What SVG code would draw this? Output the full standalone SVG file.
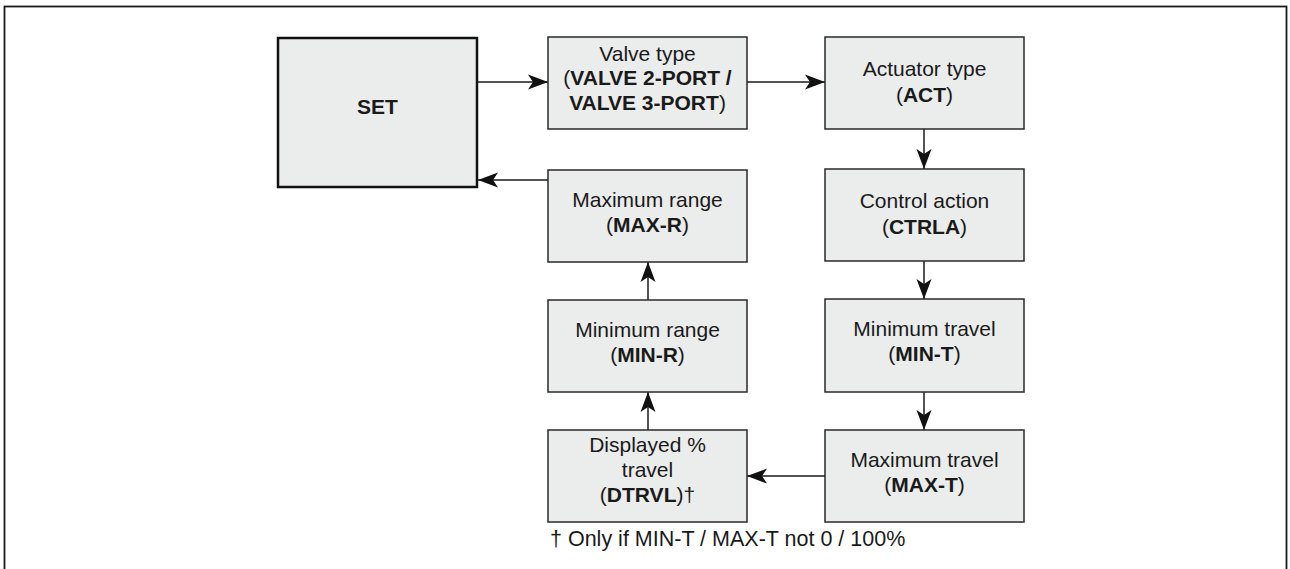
<svg xmlns="http://www.w3.org/2000/svg" width="1290" height="569" viewBox="0 0 1290 569">
<defs>
<style>
.box{fill:#ebecec;stroke:#2a2a2a;stroke-width:1.5}
.set{fill:#ebecec;stroke:#111;stroke-width:2.5}
text{font-family:"Liberation Sans",Arial,sans-serif;font-size:21px;fill:#1a1a1a;text-anchor:middle}
.b{font-weight:bold}
.conn{stroke:#1a1a1a;stroke-width:1.5;fill:none;marker-end:url(#ah)}
</style>
<marker id="ah" markerWidth="22" markerHeight="18" refX="20" refY="9" orient="auto" markerUnits="userSpaceOnUse">
<path d="M0,1.5 L20,9 L0,16.5 L5,9 z" fill="#111"/>
</marker>
</defs>
<rect x="4.5" y="6.5" width="1282" height="575" fill="#fff" stroke="#1a1a1a" stroke-width="1.8"/>
<g id="connectors">
<line class="conn" x1="477" y1="82" x2="548" y2="82"/>
<line class="conn" x1="747" y1="82" x2="825" y2="82"/>
<line class="conn" x1="924" y1="129" x2="924" y2="169"/>
<line class="conn" x1="924" y1="261" x2="924" y2="299"/>
<line class="conn" x1="924" y1="392" x2="924" y2="430"/>
<line class="conn" x1="825" y1="476" x2="747" y2="476"/>
<line class="conn" x1="648" y1="430" x2="648" y2="392"/>
<line class="conn" x1="648" y1="300" x2="648" y2="262"/>
<line class="conn" x1="548" y1="180" x2="478" y2="180"/>
</g>
<g id="set">
<rect class="set" x="278" y="38" width="199" height="149"/>
<text x="377.5" y="114" class="b">SET</text>
</g>
<g id="valve-type">
<rect class="box" x="548" y="37" width="199" height="92"/>
<text x="647.5" y="61">Valve type</text>
<text x="647.5" y="85">(<tspan class="b">VALVE 2-PORT /</tspan></text>
<text x="647.5" y="110"><tspan class="b">VALVE 3-PORT</tspan>)</text>
</g>
<g id="actuator-type">
<rect class="box" x="825" y="37" width="199" height="92"/>
<text x="924.5" y="76">Actuator type</text>
<text x="924.5" y="102">(<tspan class="b">ACT</tspan>)</text>
</g>
<g id="control-action">
<rect class="box" x="825" y="169" width="199" height="92"/>
<text x="924.5" y="208">Control action</text>
<text x="924.5" y="234">(<tspan class="b">CTRLA</tspan>)</text>
</g>
<g id="minimum-travel">
<rect class="box" x="825" y="299" width="199" height="93"/>
<text x="924.5" y="336">Minimum travel</text>
<text x="924.5" y="361">(<tspan class="b">MIN-T</tspan>)</text>
</g>
<g id="maximum-travel">
<rect class="box" x="825" y="430" width="199" height="92"/>
<text x="924.5" y="467">Maximum travel</text>
<text x="924.5" y="492">(<tspan class="b">MAX-T</tspan>)</text>
</g>
<g id="displayed-travel">
<rect class="box" x="548" y="430" width="199" height="92"/>
<text x="647.5" y="452">Displayed %</text>
<text x="647.5" y="477">travel</text>
<text x="647.5" y="502">(<tspan class="b">DTRVL</tspan>)†</text>
</g>
<g id="minimum-range">
<rect class="box" x="548" y="300" width="199" height="92"/>
<text x="647.5" y="337">Minimum range</text>
<text x="647.5" y="362">(<tspan class="b">MIN-R</tspan>)</text>
</g>
<g id="maximum-range">
<rect class="box" x="548" y="170" width="199" height="92"/>
<text x="647.5" y="207">Maximum range</text>
<text x="647.5" y="232">(<tspan class="b">MAX-R</tspan>)</text>
</g>
<text x="550" y="546" style="text-anchor:start;font-size:21.5px">† Only if MIN-T / MAX-T not 0 / 100%</text>
</svg>
